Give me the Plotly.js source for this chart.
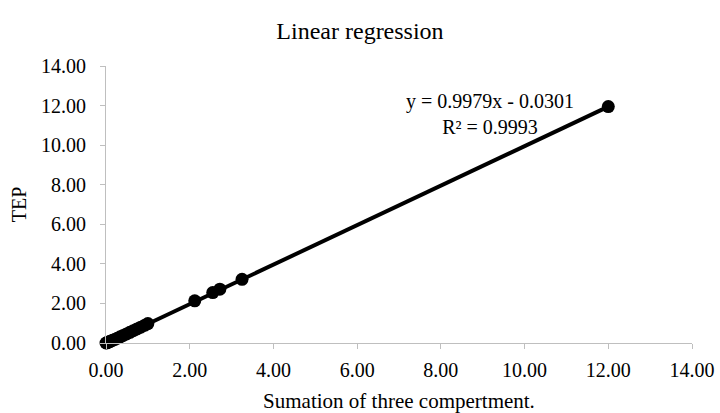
<!DOCTYPE html>
<html>
<head>
<meta charset="utf-8">
<script src="https://cdn.plot.ly/plotly-3.0.1.min.js"></script>
<style>html,body{margin:0;padding:0;background:#fff;}#chart{width:720px;height:413px;}</style>
</head>
<body>
<div id="chart"></div>
<script>
// Data
const sumThree = [0.00, 0.02, 0.04, 0.06, 0.09, 0.12, 0.16, 0.21, 0.27, 0.34, 0.41, 0.49, 0.57, 0.65, 0.74, 0.83, 0.93, 1.00, 2.12, 2.55, 2.72, 3.25, 12.00];
const tep      = [0.00, 0.01, 0.03, 0.05, 0.07, 0.10, 0.14, 0.18, 0.24, 0.31, 0.38, 0.46, 0.54, 0.62, 0.71, 0.80, 0.90, 0.98, 2.13, 2.55, 2.72, 3.22, 11.95];
const slope = 0.9979;
const intercept = -0.0301;
const rSquared = 0.9993;
const axisTicks = [0, 2, 4, 6, 8, 10, 12, 14];

const xMin = Math.min(...sumThree), xMax = Math.max(...sumThree);
const trendX = [xMin, xMax];
const trendY = trendX.map(v => slope * v + intercept);

const font = 'Liberation Serif';

const traces = [
  {x: trendX, y: trendY, mode: 'lines', line: {color: '#000', width: 4}, cliponaxis: false, hoverinfo: 'skip', showlegend: false},
  {x: sumThree, y: tep, mode: 'markers', marker: {color: '#000', size: 13}, cliponaxis: false, showlegend: false}
];

const axisCommon = {
  range: [0, 14], tickvals: axisTicks, tickformat: '.2f',
  showgrid: false, zeroline: false, showline: true, linecolor: '#bfbfbf', linewidth: 1,
  ticks: 'outside', ticklen: 5, tickcolor: '#bfbfbf',
  tickfont: {family: font, size: 20, color: '#000'}
};

const layout = {
  width: 720, height: 413,
  margin: {l: 106, r: 28, t: 66, b: 70},
  paper_bgcolor: '#fff', plot_bgcolor: '#fff',
  font: {family: font, color: '#000'},
  title: {text: 'Linear regression', font: {family: font, size: 24, color: '#000'}, x: 0.5, xanchor: 'center', y: 0.927, yanchor: 'middle', yref: 'container'},
  xaxis: Object.assign({}, axisCommon, {ticklabelstandoff: 4, title: {text: 'Sumation of three compertment.', font: {family: font, size: 21, color: '#000'}, standoff: 17}}),
  yaxis: Object.assign({}, axisCommon, {ticklabelstandoff: 10, title: {text: 'TEP', font: {family: font, size: 20, color: '#000'}, standoff: 9}}),
  annotations: [{
    x: 9.18, y: 11.55, xref: 'x', yref: 'y', showarrow: false,
    text: 'y = ' + slope.toFixed(4) + 'x - ' + Math.abs(intercept).toFixed(4) + '<br>R² = ' + rSquared.toFixed(4),
    align: 'center', xanchor: 'center', yanchor: 'middle',
    font: {family: font, size: 20, color: '#000'}
  }]
};

Plotly.newPlot('chart', traces, layout, {displayModeBar: false, staticPlot: true});
</script>
</body>
</html>
